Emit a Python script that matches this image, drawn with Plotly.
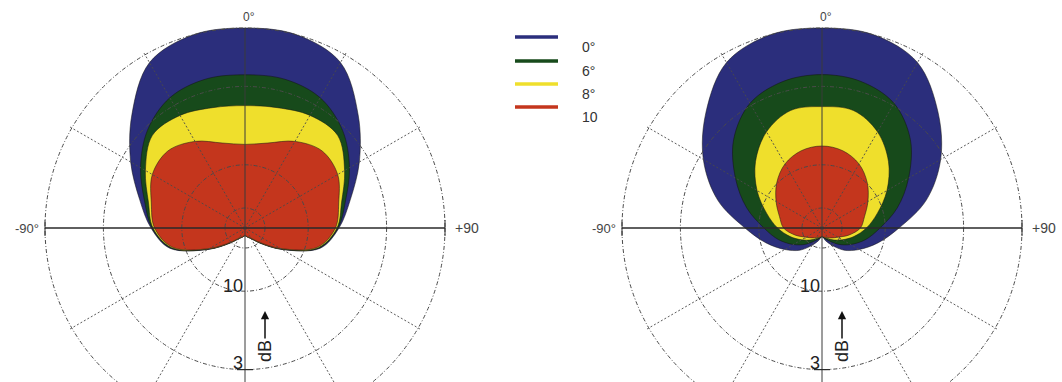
import numpy as np
import plotly.graph_objects as go

# Polar response, relative pressure (1.0 = 0 dB on axis), sampled every 15 deg
# from the front (0) round to the rear (180); both patterns are symmetric.
angles_deg = [0, 15, 30, 45, 60, 75, 90, 105, 120, 135, 150, 165, 180]

left_0 = [1.00, 1.00, 0.955, 0.80, 0.66, 0.545, 0.47, 0.39, 0.215, 0.108, 0.062, 0.047, 0.038]
left_6 = [0.766, 0.77, 0.752, 0.69, 0.603, 0.52, 0.465, 0.385, 0.213, 0.106, 0.061, 0.047, 0.038]
left_8 = [0.612, 0.623, 0.65, 0.655, 0.575, 0.50, 0.46, 0.38, 0.21, 0.104, 0.06, 0.046, 0.038]
left_10 = [0.418, 0.44, 0.50, 0.545, 0.535, 0.485, 0.452, 0.374, 0.205, 0.10, 0.058, 0.045, 0.038]

right_0 = [1.00, 1.00, 0.955, 0.82, 0.685, 0.54, 0.385, 0.289, 0.215, 0.157, 0.10, 0.065, 0.043]
right_6 = [0.767, 0.758, 0.72, 0.625, 0.50, 0.39, 0.29, 0.225, 0.165, 0.115, 0.075, 0.055, 0.043]
right_8 = [0.607, 0.608, 0.555, 0.47, 0.375, 0.287, 0.222, 0.165, 0.118, 0.085, 0.062, 0.05, 0.043]
right_10 = [0.41, 0.40, 0.37, 0.32, 0.265, 0.22, 0.192, 0.138, 0.092, 0.07, 0.055, 0.048, 0.043]

series_labels = ["0°", "6°", "8°", "10"]
series_colors = ["#2b2e7c", "#174a1b", "#efdf2c", "#c4361d"]

# grid rings: 0, -3, -10 and -20 dB as linear pressure
ring_levels = [1.0, 0.708, 0.316, 0.1]
spoke_angles = [30, 60, 120, 150, 210, 240, 300, 330]
angle_labels = ["0°", "-90°", "+90"]
ring_labels = ["10", "3"]

FONT = "Liberation Sans, Arial, sans-serif"


def outline(r_half):
    th = np.radians(np.array(angles_deg, dtype=float))
    r = np.array(r_half, dtype=float)
    th_full = np.concatenate([-th[::-1], th[1:]])
    r_full = np.concatenate([r[::-1], r[1:]])
    return r_full * np.sin(th_full), r_full * np.cos(th_full)


fig = go.Figure()
shapes = []
annotations = []

panels = [
    ("x", "y", [left_0, left_6, left_8, left_10]),
    ("x2", "y2", [right_0, right_6, right_8, right_10]),
]

for xa, ya, patterns in panels:
    for label, color, r_half in zip(series_labels, series_colors, patterns):
        x, y = outline(r_half)
        fig.add_trace(go.Scatter(
            x=x, y=y, xaxis=xa, yaxis=ya, mode="lines",
            line=dict(shape="spline", smoothing=1.0, color="rgba(20,20,20,0.65)", width=0.8),
            fill="toself", fillcolor=color, name=label, showlegend=False,
            hoverinfo="skip",
        ))

    # dashed level rings
    for lv in ring_levels:
        shapes.append(dict(type="circle", xref=xa, yref=ya, x0=-lv, x1=lv, y0=-lv, y1=lv,
                           line=dict(color="#4a4a4a", width=1, dash="4px,2px,1px,2px"), layer="above"))
    # 30-degree spokes
    for a in spoke_angles:
        t = np.radians(a)
        shapes.append(dict(type="line", xref=xa, yref=ya, x0=0, y0=0,
                           x1=1.02 * np.sin(t), y1=1.02 * np.cos(t),
                           line=dict(color="#4a4a4a", width=0.9, dash="2px,2px"), layer="above"))
    # main axes
    shapes.append(dict(type="line", xref=xa, yref=ya, x0=-1.0, y0=0, x1=1.0, y1=0,
                       line=dict(color="#2a2a2a", width=1.3), layer="above"))
    shapes.append(dict(type="line", xref=xa, yref=ya, x0=0, y0=-1.0, x1=0, y1=1.0,
                       line=dict(color="#3a3a3a", width=1), layer="above"))
    shapes.append(dict(type="line", xref=xa, yref=ya, x0=-0.04, y0=-0.708, x1=0.04, y1=-0.708,
                       line=dict(color="#2a2a2a", width=1.2), layer="above"))
    for lb in [-1.0, 1.0]:
        shapes.append(dict(type="line", xref=xa, yref=ya, x0=lb, y0=-0.04, x1=lb, y1=0.04,
                           line=dict(color="#2a2a2a", width=1), layer="above"))

    # angle labels
    annotations.append(dict(xref=xa, yref=ya, x=0.02, y=1.055, text=angle_labels[0], showarrow=False,
                            font=dict(family=FONT, size=12, color="#444")))
    annotations.append(dict(xref=xa, yref=ya, x=-1.02, y=0.0, text=angle_labels[1], showarrow=False,
                            xanchor="right", font=dict(family=FONT, size=13, color="#444")))
    annotations.append(dict(xref=xa, yref=ya, x=1.04, y=0.0, text=angle_labels[2], showarrow=False,
                            xanchor="left", font=dict(family=FONT, size=14, color="#444")))
    # level labels
    annotations.append(dict(xref=xa, yref=ya, x=-0.06, y=-0.29, text=ring_labels[0], showarrow=False,
                            font=dict(family=FONT, size=18, color="#222")))
    annotations.append(dict(xref=xa, yref=ya, x=-0.035, y=-0.675, text=ring_labels[1], showarrow=False,
                            font=dict(family=FONT, size=18, color="#222")))
    # dB arrow
    annotations.append(dict(xref=xa, yref=ya, x=0.1, y=-0.415, ax=0, ay=40,
                            text="dB", textangle=-90, showarrow=True, arrowhead=2, arrowsize=1.1,
                            arrowwidth=1.5, arrowcolor="#111", standoff=0,
                            font=dict(family=FONT, size=18, color="#222")))

# legend swatches
legend_y = [37, 61, 84, 107]
for label, color, yp in zip(series_labels, series_colors, legend_y):
    yy = 1 - yp / 382
    shapes.append(dict(type="line", xref="paper", yref="paper", x0=515 / 1062, x1=558 / 1062,
                       y0=yy, y1=yy, line=dict(color=color, width=3.5)))
    annotations.append(dict(xref="paper", yref="paper", x=580 / 1062, y=yy, text=label,
                            xanchor="left", showarrow=False,
                            font=dict(family=FONT, size=14, color="#333")))

axis_style = dict(visible=False, showgrid=False, zeroline=False, fixedrange=True)
fig.update_layout(
    width=1062, height=382,
    margin=dict(l=0, r=0, t=0, b=0),
    paper_bgcolor="white", plot_bgcolor="white",
    showlegend=False,
    xaxis=dict(domain=[0, 0.5], range=[-245 / 200, 286 / 200], **axis_style),
    yaxis=dict(domain=[0, 1], range=[-154 / 200, 228 / 200], **axis_style),
    xaxis2=dict(domain=[0.5, 1], range=[-291 / 200, 240 / 200], anchor="y2", **axis_style),
    yaxis2=dict(domain=[0, 1], range=[-154 / 200, 228 / 200], anchor="x2", **axis_style),
    shapes=shapes,
    annotations=annotations,
)

fig.write_html("out.html")
